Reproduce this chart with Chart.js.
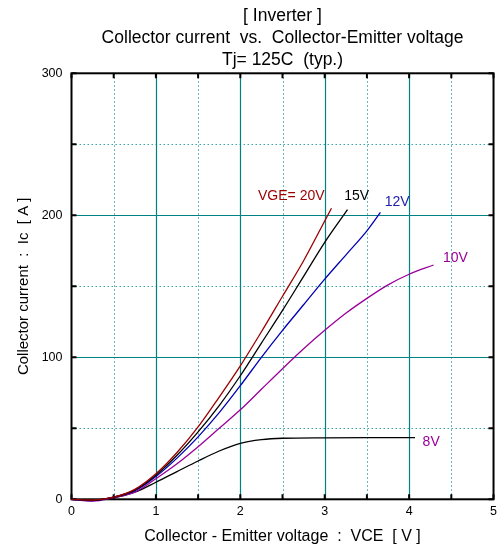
<!DOCTYPE html>
<html><head><meta charset="utf-8">
<script src="https://cdn.jsdelivr.net/npm/chart.js@4"></script>
<style>html,body{margin:0;padding:0;background:#fff}#wrap{width:502px;height:554px;position:relative}</style>
</head><body><div id="wrap"><canvas id="c" width="502" height="554"></canvas></div>
<script>
// ---- data ----
const titleLines = ['[ Inverter ]', 'Collector current  vs.  Collector-Emitter voltage', 'Tj= 125C  (typ.)'];
const xAxisTitle = 'Collector - Emitter voltage  :  VCE  [ V ]';
const yAxisTitle = 'Collector current  :  Ic  [ A ]';
const xTickValues = [0, 1, 2, 3, 4, 5];
const yTickValues = [0, 100, 200, 300];
const seriesNames = ['VGE= 20V', '15V', '12V', '10V', '8V'];

const vce20 = [0, 0.25, 0.5, 0.75, 1, 1.25, 1.5, 1.75, 2, 2.25, 2.5, 2.75, 3, 3.08];
const ic20  = [0, -0.5, 1.5, 7, 18, 33, 51, 72, 94, 118, 143, 168, 196, 205];
const vce15 = [0, 0.25, 0.5, 0.75, 1, 1.25, 1.5, 1.75, 2, 2.25, 2.5, 2.75, 3, 3.27];
const ic15  = [0, -0.7, 1.5, 6.5, 17, 31, 47.5, 66, 87, 110, 133, 157, 181, 204];
const vce12 = [0, 0.25, 0.5, 0.75, 1, 1.25, 1.5, 1.75, 2, 2.25, 2.5, 2.75, 3, 3.25, 3.5, 3.66];
const ic12  = [0, -1, 1.5, 6, 16, 29, 44, 61, 80, 100, 119, 137, 155, 172, 189, 202];
const vce10 = [0, 0.25, 0.5, 0.75, 1, 1.25, 1.5, 1.75, 2, 2.25, 2.5, 2.75, 3, 3.25, 3.5, 3.75, 4, 4.29];
const ic10  = [0, -1.2, 1.2, 5, 14.5, 25, 37, 50, 63, 77.5, 92, 106, 119, 131, 141.5, 151, 158.5, 165];
const vce8  = [0, 0.25, 0.5, 0.75, 1, 1.25, 1.5, 1.75, 2, 2.25, 2.5, 3, 3.5, 4.07];
const ic8   = [0, -0.5, 1, 5, 12, 19.5, 27, 34, 39.4, 42, 43, 43.3, 43.4, 43.4];

// ---- styling ----
const FONT = "'Liberation Sans', Arial, Helvetica, sans-serif";
const lineColors = ['#9b0000', '#000000', '#0000b4', '#990099', '#000000'];
const labelColors = ['#9b0000', '#000000', '#2020b0', '#990099', '#990099'];
// label anchors in data units (left edge, vertical middle)
const labelAnchors = [[2.21, 213.5], [3.23, 213.5], [3.71, 209], [4.40, 170], [4.16, 40.5]];

const xs = [vce20, vce15, vce12, vce10, vce8];
const ys = [ic20, ic15, ic12, ic10, ic8];
const datasets = seriesNames.map((n, k) => ({
  label: n,
  data: xs[k].map((x, i) => ({x: x, y: ys[k][i]})),
  borderColor: lineColors[k],
  borderWidth: 1.3,
  pointRadius: 0,
  fill: false,
  cubicInterpolationMode: 'monotone',
  clip: false
}));

const framePlugin = {
  id: 'frame',
  beforeDatasetsDraw(chart) {
    const ctx = chart.ctx, a = chart.chartArea;
    const sx = chart.scales.x, sy = chart.scales.y;
    ctx.save();
    // minor dotted grid
    ctx.strokeStyle = '#3aa6a6';
    ctx.lineWidth = 1;
    ctx.setLineDash([1.5, 2.5]);
    for (let i = 0; i < xTickValues.length - 1; i++) {
      const px = Math.round(sx.getPixelForValue((xTickValues[i] + xTickValues[i + 1]) / 2)) + 0.5;
      ctx.beginPath(); ctx.moveTo(px, a.top); ctx.lineTo(px, a.bottom); ctx.stroke();
    }
    for (let i = 0; i < yTickValues.length - 1; i++) {
      const py = Math.round(sy.getPixelForValue((yTickValues[i] + yTickValues[i + 1]) / 2)) + 0.5;
      ctx.beginPath(); ctx.moveTo(a.left, py); ctx.lineTo(a.right, py); ctx.stroke();
    }
    // major solid grid
    ctx.setLineDash([]);
    ctx.strokeStyle = '#008282';
    ctx.lineWidth = 1.2;
    xTickValues.slice(1, -1).forEach(v => {
      const px = Math.round(sx.getPixelForValue(v)) + 0.5;
      ctx.beginPath(); ctx.moveTo(px, a.top); ctx.lineTo(px, a.bottom); ctx.stroke();
    });
    yTickValues.slice(1, -1).forEach(v => {
      const py = Math.round(sy.getPixelForValue(v)) + 0.5;
      ctx.beginPath(); ctx.moveTo(a.left, py); ctx.lineTo(a.right, py); ctx.stroke();
    });
    // frame
    ctx.strokeStyle = '#000';
    ctx.lineWidth = 2;
    ctx.strokeRect(a.left, a.top, a.right - a.left, a.bottom - a.top);
    // inward ticks at every major and minor position
    const tl = 5;
    const xt = [], yt = [];
    for (let i = 0; i < xTickValues.length; i++) {
      xt.push(xTickValues[i]);
      if (i < xTickValues.length - 1) xt.push((xTickValues[i] + xTickValues[i + 1]) / 2);
    }
    for (let i = 0; i < yTickValues.length; i++) {
      yt.push(yTickValues[i]);
      if (i < yTickValues.length - 1) yt.push((yTickValues[i] + yTickValues[i + 1]) / 2);
    }
    ctx.beginPath();
    xt.forEach(v => {
      const px = sx.getPixelForValue(v);
      ctx.moveTo(px, a.bottom); ctx.lineTo(px, a.bottom - tl);
      ctx.moveTo(px, a.top); ctx.lineTo(px, a.top + tl);
    });
    yt.forEach(v => {
      const py = sy.getPixelForValue(v);
      ctx.moveTo(a.left, py); ctx.lineTo(a.left + tl, py);
      ctx.moveTo(a.right, py); ctx.lineTo(a.right - tl, py);
    });
    ctx.stroke();
    ctx.restore();
  },
  afterDatasetsDraw(chart) {
    const ctx = chart.ctx;
    const sx = chart.scales.x, sy = chart.scales.y;
    ctx.save();
    ctx.font = '14px ' + FONT;
    ctx.textAlign = 'left';
    ctx.textBaseline = 'middle';
    seriesNames.forEach((n, k) => {
      ctx.fillStyle = labelColors[k];
      ctx.fillText(n, sx.getPixelForValue(labelAnchors[k][0]), sy.getPixelForValue(labelAnchors[k][1]));
    });
    ctx.restore();
  }
};

new Chart(document.getElementById('c'), {
  type: 'line',
  data: {datasets: datasets},
  options: {
    responsive: false,
    animation: false,
    layout: {padding: {top: 0, left: 0, right: 5, bottom: 0}},
    plugins: {
      legend: {display: false},
      tooltip: {enabled: false},
      title: {
        display: true,
        fullSize: false,
        text: titleLines,
        color: '#000',
        font: {family: FONT, size: 17.5, weight: 'normal', lineHeight: '22px'},
        padding: {top: 5, bottom: 2.3}
      }
    },
    scales: {
      x: {
        type: 'linear', min: 0, max: 5,
        afterBuildTicks: s => { s.ticks = xTickValues.map(v => ({value: v})); },
        afterFit: s => { s.height = 54.7; },
        ticks: {color: '#000', font: {family: FONT, size: 12.5}, padding: 5, maxRotation: 0},
        grid: {display: false, drawTicks: false},
        border: {display: false},
        title: {display: true, text: xAxisTitle, color: '#000', font: {family: FONT, size: 16, lineHeight: 1.2}, padding: 7.5}
      },
      y: {
        type: 'linear', min: 0, max: 300,
        afterBuildTicks: s => { s.ticks = yTickValues.map(v => ({value: v})); },
        afterFit: s => { s.width = 71.5; },
        ticks: {color: '#000', font: {family: FONT, size: 12.5}, padding: 9},
        grid: {display: false, drawTicks: false},
        border: {display: false},
        title: {display: true, text: yAxisTitle, color: '#000', font: {family: FONT, size: 15, lineHeight: 1.2}, padding: 14.5}
      }
    }
  },
  plugins: [framePlugin]
});
</script>
</body></html>
